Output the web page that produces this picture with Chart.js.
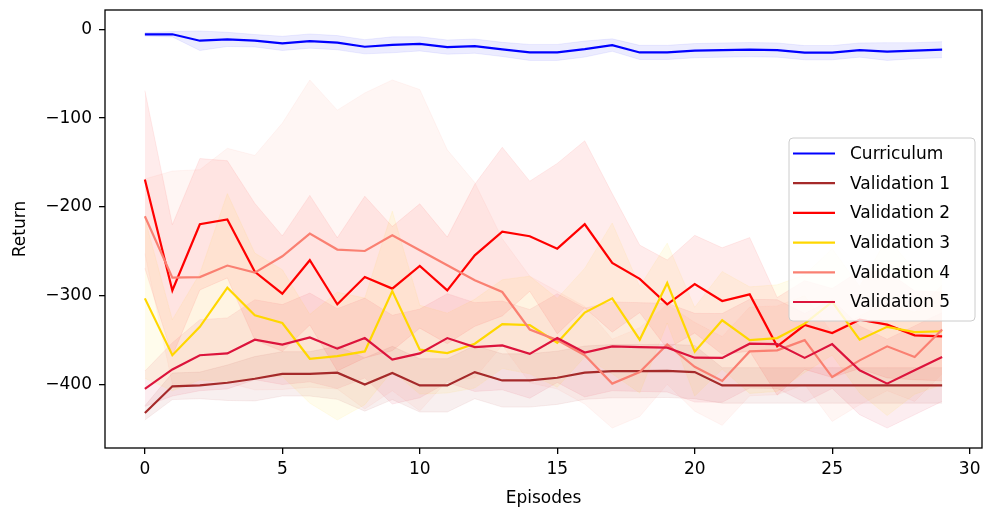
<!DOCTYPE html>
<html>
<head>
<meta charset="utf-8">
<script src="https://cdn.jsdelivr.net/npm/chart.js@4"></script>
<style>
  html, body { margin: 0; padding: 0; background: #fff; }
  #wrap { width: 984px; height: 509px; }
</style>
</head>
<body>
<div id="wrap"><canvas id="myChart" width="984" height="509"></canvas></div>
<script>
// values
const episodes = [0,1,2,3,4,5,6,7,8,9,10,11,12,13,14,15,16,17,18,19,20,21,22,23,24,25,26,27,28,29];

const curriculum = [-5.6,-5.5,-12.8,-11.3,-12.8,-15.8,-13.2,-15,-19.6,-17.4,-16.3,-20,-18.9,-22.6,-26,-26,-22.2,-17.7,-26,-26,-24,-23.3,-22.9,-23.3,-26.3,-26.3,-23.3,-25,-24,-22.9];
const curriculumStd = [2,3,11,8,7,8,8,8,8,9,8,8,8,8,9,9,9,7,8,8,8,8,8,8,8,8,8,10,9,9];

const val1 = [-432,-402,-401,-398,-393.5,-388,-388,-386.7,-400,-387,-401,-401,-386,-395.4,-395.4,-392.4,-386.7,-385,-385,-384.6,-386,-401,-401,-401,-401,-401,-401,-401,-401,-401];
const val1Std = [8,15,15,20,25,25,25,30,30,30,30,30,30,30,30,30,30,30,30,30,30,20,20,20,20,20,20,20,20,20];

const val2 = [-169,-294,-219.5,-214,-273,-297.6,-260,-309.7,-279,-292,-266.5,-294,-254.5,-227.8,-233,-247,-219.5,-263,-281,-309.7,-287,-306,-298.5,-357,-333,-342,-327,-332.6,-344.6,-345.8];
const val2Std = [100,74,74,66,77,65,73,75,91,70,70,60,80,95,62,96,94,78,38,50,55,60,64,55,50,50,55,60,50,50];

const val3 = [-303,-367,-335,-291,-322,-330.7,-371,-368,-362.7,-294.7,-360.8,-364.6,-354,-332,-333,-353,-319,-303,-349.5,-285.7,-363,-327.7,-350,-347.7,-331.5,-307,-349.5,-335,-341,-340];
const val3Std = [90,40,60,106,70,60,50,72,60,90,50,45,50,50,55,50,50,85,60,45,50,55,60,60,55,60,60,100,70,60];

const val4 = [-210.5,-279.6,-279,-266,-274,-255.6,-230,-248,-249.6,-232,-248.8,-265.7,-282.6,-295.8,-338,-350,-367,-399,-386,-354.8,-380,-396,-362.7,-361.5,-350,-391.6,-372.8,-357,-369,-338];
const val4Std = [42,120,121,132,132,150,173,157,178,175,181,130,110,60,60,55,55,50,50,45,50,50,50,50,50,50,50,50,50,50];

const val5 = [-404.8,-383,-367,-365,-349.5,-355,-347,-359.6,-347.7,-372,-365,-347.7,-357.8,-356,-365.5,-347.7,-364,-357,-357.8,-358.5,-369.8,-370,-354,-354.5,-370,-354.5,-384,-399,-384,-369];
const val5Std = [20,30,40,40,45,45,50,45,45,50,50,50,50,50,50,50,50,50,50,50,50,50,50,50,50,50,50,50,50,50];

const xTicks = [0,5,10,15,20,25,30];
const yTicks = [-400,-300,-200,-100,0];

const series = [
    { label: 'Curriculum',   mean: curriculum, std: curriculumStd, rgb: '0,0,255' },
    { label: 'Validation 1', mean: val1, std: val1Std, rgb: '165,42,42' },
    { label: 'Validation 2', mean: val2, std: val2Std, rgb: '255,0,0' },
    { label: 'Validation 3', mean: val3, std: val3Std, rgb: '255,215,0' },
    { label: 'Validation 4', mean: val4, std: val4Std, rgb: '250,128,114' },
    { label: 'Validation 5', mean: val5, std: val5Std, rgb: '220,20,60' }
];

Chart.defaults.font.family = 'DejaVu Sans';
Chart.defaults.font.size = 17;
Chart.defaults.color = '#000';

let datasets = [];
series.forEach((s, i) => {
    datasets.push({
        isBand: true,
        data: episodes.map((x, k) => ({ x: x, y: s.mean[k] - s.std[k] })),
        borderColor: `rgba(${s.rgb},0.07)`, borderWidth: 1,
        pointRadius: 0, fill: false, order: 20
    });
    datasets.push({
        isBand: true,
        data: episodes.map((x, k) => ({ x: x, y: s.mean[k] + s.std[k] })),
        borderColor: `rgba(${s.rgb},0.07)`, borderWidth: 1,
        backgroundColor: `rgba(${s.rgb},0.075)`,
        pointRadius: 0, fill: '-1', order: 20
    });
});
series.forEach((s, i) => {
    datasets.push({
        label: s.label,
        data: episodes.map((x, k) => ({ x: x, y: s.mean[k] })),
        borderColor: `rgb(${s.rgb})`, borderWidth: 2.2,
        pointRadius: 0, fill: false, tension: 0, order: 10 - i
    });
});

const frame = {
    id: 'frame',
    afterDraw(chart) {
        const a = chart.chartArea, ctx = chart.ctx;
        ctx.save();
        ctx.strokeStyle = '#000';
        ctx.lineWidth = 1.3;
        ctx.strokeRect(a.left, a.top, a.right - a.left, a.bottom - a.top);

        // legend box
        const bx = 789, by = 138, bw = 186, bh = 183, r = 4;
        ctx.beginPath();
        ctx.moveTo(bx + r, by);
        ctx.arcTo(bx + bw, by, bx + bw, by + bh, r);
        ctx.arcTo(bx + bw, by + bh, bx, by + bh, r);
        ctx.arcTo(bx, by + bh, bx, by, r);
        ctx.arcTo(bx, by, bx + bw, by, r);
        ctx.closePath();
        ctx.fillStyle = 'rgba(255,255,255,0.8)';
        ctx.fill();
        ctx.strokeStyle = '#cccccc';
        ctx.lineWidth = 1;
        ctx.stroke();

        ctx.font = '17px "DejaVu Sans"';
        ctx.textBaseline = 'middle';
        ctx.fillStyle = '#000';
        series.forEach((s, i) => {
            const y = 153.5 + i * 29.7;
            ctx.strokeStyle = `rgb(${s.rgb})`;
            ctx.lineWidth = 2.2;
            ctx.beginPath();
            ctx.moveTo(793, y);
            ctx.lineTo(835, y);
            ctx.stroke();
            ctx.fillText(s.label, 850, y + 1);
        });
        ctx.restore();
    }
};

function fmt(v) {
    return v < 0 ? '\u2212' + Math.abs(v) : String(v);
}

new Chart(document.getElementById('myChart'), {
    type: 'line',
    data: { datasets: datasets },
    options: {
        responsive: false,
        animation: false,
        layout: { padding: { left: 0, right: 2, top: 10, bottom: 0 } },
        plugins: { legend: { display: false }, tooltip: { enabled: false } },
        scales: {
            x: {
                type: 'linear', min: -1.45, max: 30.45,
                afterBuildTicks: (axis) => { axis.ticks = xTicks.map(v => ({ value: v })); },
                afterFit: (axis) => { axis.height = 61; axis.paddingLeft = 0; axis.paddingRight = 0; },
                ticks: { autoSkip: false, maxRotation: 0, padding: 5, callback: fmt },
                grid: { drawOnChartArea: false, drawTicks: true, tickLength: 6, color: '#000', lineWidth: 1.3 },
                border: { display: false },
                title: { display: true, text: 'Episodes', padding: { top: 2, bottom: 0 } }
            },
            y: {
                type: 'linear', min: -471.5, max: 21.8,
                afterBuildTicks: (axis) => { axis.ticks = yTicks.map(v => ({ value: v })); },
                afterFit: (axis) => { axis.width = 105; axis.paddingTop = 0; axis.paddingBottom = 0; },
                ticks: { autoSkip: false, padding: 7, callback: fmt },
                grid: { drawOnChartArea: false, drawTicks: true, tickLength: 6, color: '#000', lineWidth: 1.3 },
                border: { display: false },
                title: { display: true, text: 'Return', padding: { top: 10, bottom: 0 } }
            }
        }
    },
    plugins: [frame]
});
</script>
</body>
</html>
